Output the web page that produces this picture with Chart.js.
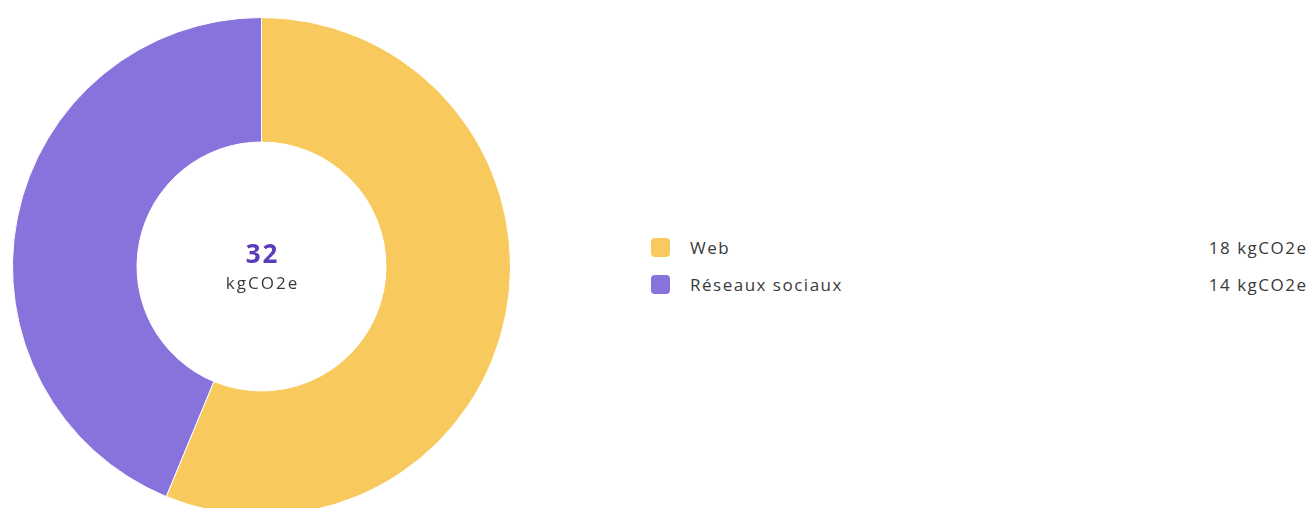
<!DOCTYPE html>
<html>
<head>
<meta charset="utf-8">
<script src="https://cdn.jsdelivr.net/npm/chart.js@4/dist/chart.umd.min.js"></script>
<style>
  html, body { margin: 0; padding: 0; background: #fff; overflow: hidden; width: 1310px; height: 508px; }
  body { font-family: "Open Sans", "Noto Sans", sans-serif; position: relative; }
  #chartWrap { position: absolute; left: 12px; top: 17px; width: 499px; height: 499px; }
  #legend { position: absolute; left: 651px; top: 229px; width: 655px; }
  .row { display: flex; align-items: center; height: 37px; font-size: 17px; letter-spacing: 1.5px; color: #3a3a3a; }
  .box { width: 19px; height: 19px; border-radius: 4px; margin-right: 20px; }
  .label { flex: 1; }
  .value { text-align: right; margin-right: -1.5px; }
</style>
</head>
<body>
<div id="chartWrap"><canvas id="carbonChart"></canvas></div>
<div id="legend"></div>
<script>
const categories = ['Web', 'Réseaux sociaux'];
const values = [18, 14];
const colors = ['#F8C95C', '#8872DB'];
const unit = 'kgCO2e';

const total = values.reduce((a, b) => a + b, 0);

// total in the hole of the doughnut
const centerText = {
  id: 'centerText',
  afterDraw(chart) {
    const ctx = chart.ctx;
    const meta = chart.getDatasetMeta(0).data[0];
    const x = meta.x, y = meta.y;
    ctx.save();
    ctx.textAlign = 'center';
    ctx.textBaseline = 'middle';
    ctx.fillStyle = '#5B3DB8';
    ctx.font = 'bold 26px "Open Sans", "Noto Sans", sans-serif';
    ctx.letterSpacing = '2px';
    ctx.fillText(String(total), x + 1, y - 11);
    ctx.fillStyle = '#3a3a3a';
    ctx.font = '17px "Open Sans", "Noto Sans", sans-serif';
    ctx.letterSpacing = '2px';
    ctx.fillText(unit, x + 1, y + 18);
    ctx.restore();
  }
};

const ctx = document.querySelector('#carbonChart').getContext('2d');
const carbonChart = new Chart(ctx, {
  type: 'doughnut',
  data: {
    labels: categories,
    datasets: [{ data: values, backgroundColor: colors, borderColor: '#ffffff', borderWidth: 1 }]
  },
  options: {
    responsive: true,
    maintainAspectRatio: false,
    animation: false,
    cutout: '50%',
    plugins: { legend: { display: false }, tooltip: { enabled: false } }
  },
  plugins: [centerText]
});

// legend on the right
const legend = document.querySelector('#legend');
categories.forEach((cat, i) => {
  const row = document.createElement('div');
  row.className = 'row';
  row.innerHTML = `<div class="box" style="background:${colors[i]}"></div><div class="label">${cat}</div><div class="value">${values[i]} ${unit}</div>`;
  legend.appendChild(row);
});
</script>
</body>
</html>
